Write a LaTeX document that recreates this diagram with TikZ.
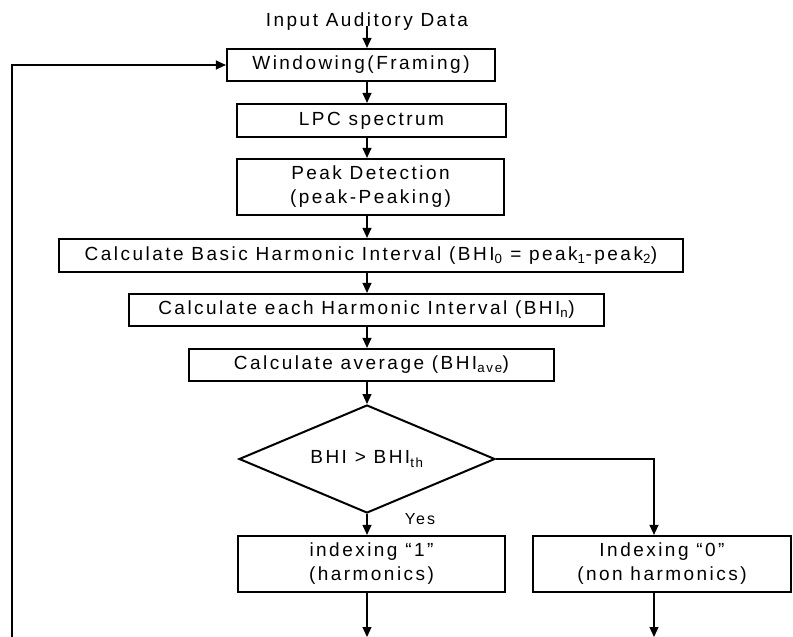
\documentclass[tikz,border=0pt]{standalone}
\usepackage{fontspec}
\setmainfont[LetterSpace=13]{Liberation Sans}
\usetikzlibrary{shapes.geometric,arrows.meta}
\begin{document}
\begin{tikzpicture}[x=1pt,y=-1pt,
  box/.style={draw, line width=2.2pt, inner sep=0pt, align=center, font=\fontsize{19}{24}\selectfont},
  lbl/.style={inner sep=0pt, font=\fontsize{19}{24}\selectfont},
  arr/.style={line width=1.2pt, -{Triangle[length=10pt,width=9pt]}},
  ln/.style={line width=1.2pt}]
\useasboundingbox (0,0) rectangle (793,637);
\coordinate (col) at (367,0);
\coordinate (rcol) at (654,0);
\coordinate (lcol) at (12,0);
\node[lbl] (in) at (367,22) {Input Auditory Data};
\node[box, minimum width=268pt, minimum height=32pt] (win) at (361,65) {Windowing(Framing)};
\node[box, minimum width=269pt, minimum height=33pt] (lpc) at (371.5,120.5) {LPC spectrum};
\node[box, minimum width=267pt, minimum height=56pt] (peak) at (370.5,187) {Peak Detection\\(peak-Peaking)};
\node[box, minimum width=624pt, minimum height=33pt] (basic) at (371,255.5) {Calculate Basic Harmonic Interval (BHI\textsubscript{0} = peak\textsubscript{1}-peak\textsubscript{2})};
\node[box, minimum width=475pt, minimum height=32pt] (each) at (366.5,310) {Calculate each Harmonic Interval (BHI\textsubscript{n})};
\node[box, minimum width=365pt, minimum height=32pt] (avg) at (371.5,365) {Calculate average (BHI\textsubscript{ave})};
\node[draw, diamond, line width=2pt, inner sep=0pt, aspect=2.37, minimum width=256pt, minimum height=108pt, font=\fontsize{19}{24}\selectfont] (dia) at (367,459) {BHI > BHI\textsubscript{th}};
\node[lbl, font=\fontsize{16}{20}\selectfont] (yes) at (420,519) {Yes};
\node[box, minimum width=267pt, minimum height=56pt] (ind1) at (371.5,564) {indexing “1”\\(harmonics)};
\node[box, minimum width=258pt, minimum height=56pt] (ind2) at (662,564) {Indexing “0”\\(non harmonics)};
\coordinate (end1) at (367,637);
\coordinate (end2) at (654,637);
\coordinate (fb) at (12,637);
\coordinate (instart) at (367,26);
% connectors
\draw[arr] (instart) -- (win.north -| col);
\draw[arr] (win.south -| col) -- (lpc.north -| col);
\draw[arr] (lpc.south -| col) -- (peak.north -| col);
\draw[arr] (peak.south -| col) -- (basic.north -| col);
\draw[arr] (basic.south -| col) -- (each.north -| col);
\draw[arr] (each.south -| col) -- (avg.north -| col);
\draw[arr] (avg.south -| col) -- (dia.north);
\draw[arr] (dia.south) -- (ind1.north -| col);
\draw[arr] (dia.east) -- (dia.east -| rcol) -- (ind2.north -| rcol);
\draw[arr] (ind1.south -| col) -- (end1);
\draw[arr] (ind2.south -| rcol) -- (end2);
\draw[arr] (fb) -- (win.west -| lcol) -- (win.west);
\end{tikzpicture}
\end{document}
